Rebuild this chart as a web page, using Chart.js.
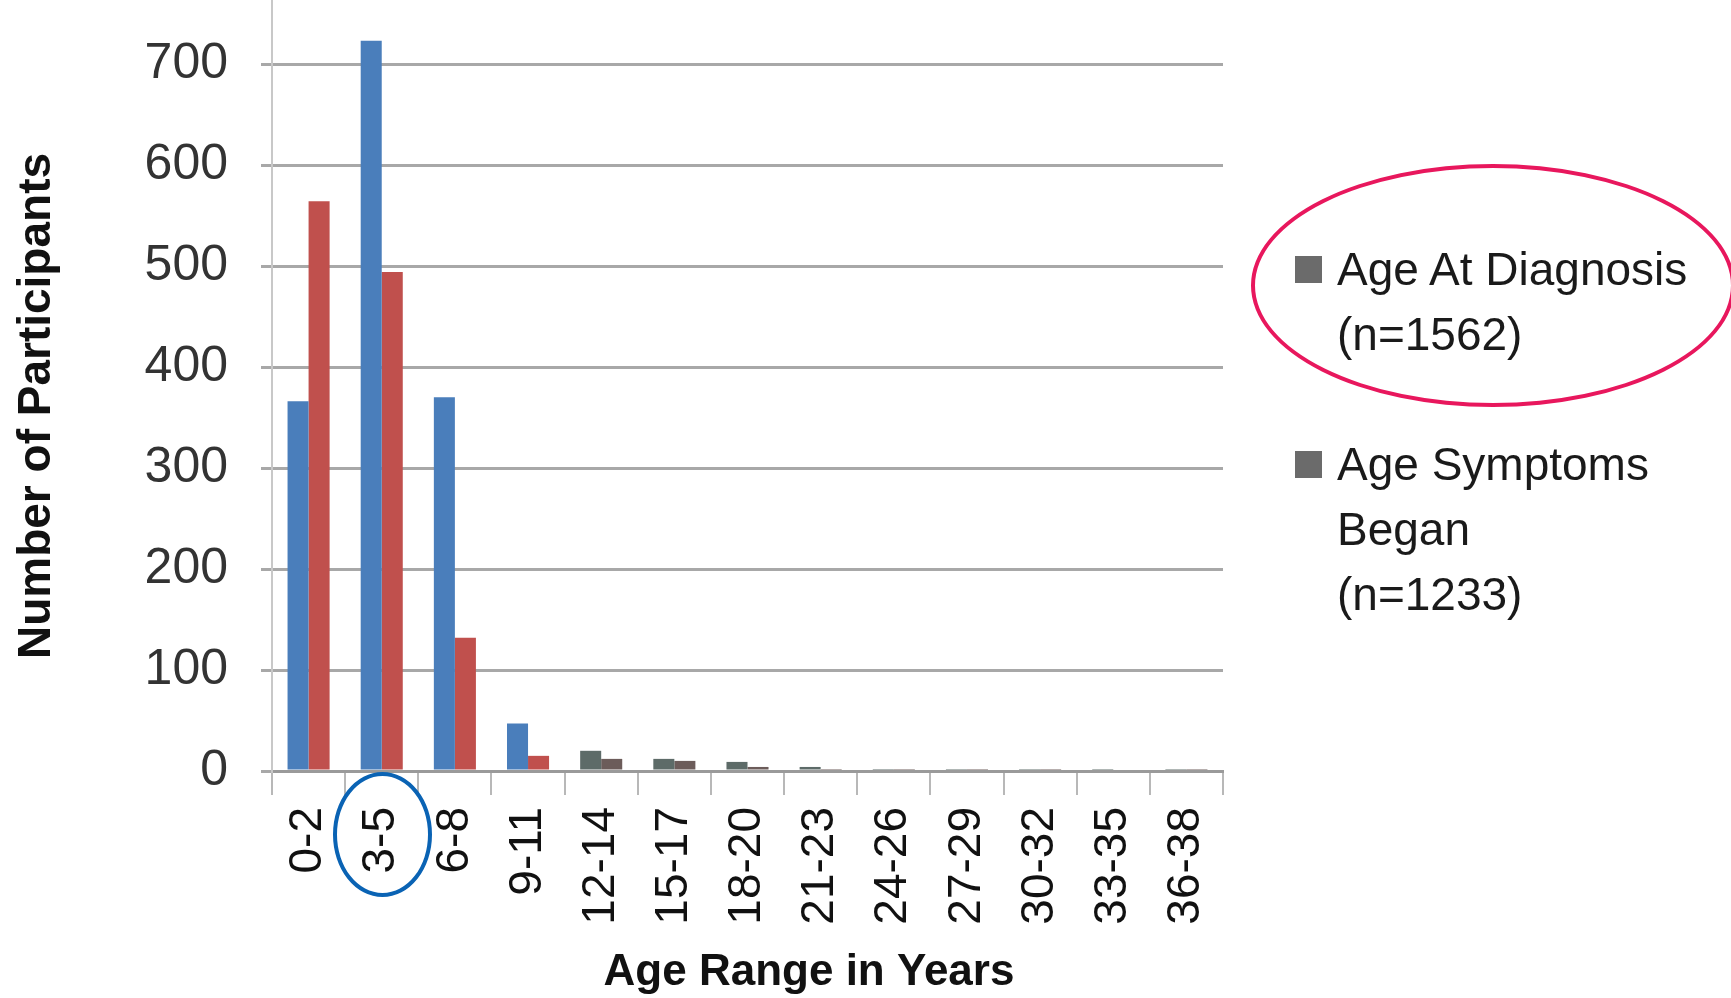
<!DOCTYPE html>
<html>
<head>
<meta charset="utf-8">
<script src="https://cdn.jsdelivr.net/npm/chart.js@4.4.0/dist/chart.umd.min.js"></script>
<style>
  html, body { margin: 0; padding: 0; background: #fff; overflow: hidden; }
  body { width: 1731px; height: 998px; position: relative; font-family: "Liberation Sans", Arial, sans-serif; }
  #wrap { position: absolute; left: 0; top: -140px; width: 1731px; height: 1138px; }
  .legend-box { position: absolute; left: 1295px; width: 27px; height: 27px; background: #6b6b6b; }
  .legend-text { position: absolute; left: 1337px; font-size: 46px; line-height: 65px; color: #1a1a1a; white-space: nowrap; }
  .ring { position: absolute; border-radius: 50%; box-sizing: border-box; }
</style>
</head>
<body>
<div id="wrap"><canvas id="ageChart"></canvas></div>
<div id="legend"></div>
<!-- hand-drawn highlight rings from the original slide -->
<div class="ring" style="left:1251px; top:164px; width:484px; height:243px; border:4px solid #e8175d;"></div>
<div class="ring" style="left:333px; top:772px; width:99px; height:125px; border:4px solid #0a63b4;"></div>

<script>
const ageRanges = ['0-2', '3-5', '6-8', '9-11', '12-14', '15-17', '18-20', '21-23', '24-26', '27-29', '30-32', '33-35', '36-38'];
const ageAtDiagnosis = [366, 723, 370, 47, 20, 12, 9, 4, 2, 1, 1, 1, 1];
const ageSymptomsBegan = [564, 494, 132, 15, 12, 10, 4, 2, 1, 1, 1, 0, 1];
const seriesNames = [['Age At Diagnosis'], ['Age Symptoms', 'Began']];
const seriesCounts = [1562, 1233];
const yMax = 800;
const yStep = 100;
const xTitle = 'Age Range in Years';
const yTitle = 'Number of Participants';

const fontFamily = '"Liberation Sans", Arial, sans-serif';

// legend (multi-line, so built in html)
const legendTops = [237, 432];
const legendEl = document.getElementById('legend');
seriesNames.forEach(function(lines, i) {
    const box = document.createElement('div');
    box.className = 'legend-box';
    box.style.top = (legendTops[i] + 19) + 'px';
    legendEl.appendChild(box);

    const txt = document.createElement('div');
    txt.className = 'legend-text';
    txt.style.top = legendTops[i] + 'px';
    txt.innerHTML = lines.join('<br>') + '<br>(n=' + seriesCounts[i] + ')';
    legendEl.appendChild(txt);
});

// axis titles are not centred on the (cropped) plot area in the original, so draw them here
const axisTitlesPlugin = {
    id: 'axisTitles',
    afterDraw(chart) {
        const ctx = chart.ctx;
        ctx.save();
        ctx.fillStyle = '#111';
        ctx.textAlign = 'center';
        ctx.textBaseline = 'middle';

        ctx.font = 'bold 44px ' + fontFamily;
        ctx.fillText(xTitle, 809, 1113);

        ctx.translate(37, 546);
        ctx.rotate(-Math.PI / 2);
        ctx.font = 'bold 46px ' + fontFamily;
        ctx.fillText(yTitle, 0, 0);
        ctx.restore();
    }
};

const ctx = document.getElementById('ageChart').getContext('2d');
new Chart(ctx, {
    type: 'bar',
    data: {
        labels: ageRanges,
        datasets: [
            {
                label: seriesNames[0].join(' '),
                data: ageAtDiagnosis,
                backgroundColor: c => c.dataIndex >= 4 ? '#5d6b68' : '#4a7ebb',
                categoryPercentage: 0.575,
                barPercentage: 1.0
            },
            {
                label: seriesNames[1].join(' '),
                data: ageSymptomsBegan,
                backgroundColor: c => c.dataIndex >= 4 ? '#6c5c5a' : '#c0504d',
                categoryPercentage: 0.575,
                barPercentage: 1.0
            }
        ]
    },
    options: {
        responsive: true,
        maintainAspectRatio: false,
        animation: false,
        layout: { padding: { top: 103, right: 508, bottom: 0, left: 0 } },
        plugins: {
            legend: { display: false },
            tooltip: { enabled: false }
        },
        scales: {
            x: {
                afterFit: function(scale) { scale.height = 227; },
                grid: {
                    offset: true,
                    drawOnChartArea: false,
                    drawTicks: true,
                    tickLength: 24,
                    color: '#b8b8b8',
                    lineWidth: 2
                },
                border: { color: '#9a9a9a', width: 3 },
                ticks: {
                    autoSkip: false,
                    minRotation: 90,
                    maxRotation: 90,
                    padding: 12,
                    color: '#111',
                    font: { family: fontFamily, size: 46 }
                }
            },
            y: {
                min: 0,
                max: yMax,
                afterFit: function(scale) { scale.width = 272; },
                grid: {
                    color: '#a8a8a8',
                    lineWidth: 3,
                    tickLength: 11
                },
                border: { color: '#c8c8c8', width: 2 },
                ticks: {
                    stepSize: yStep,
                    padding: 33,
                    color: '#333',
                    font: { family: fontFamily, size: 50 }
                }
            }
        }
    },
    plugins: [axisTitlesPlugin]
});
</script>
</body>
</html>
